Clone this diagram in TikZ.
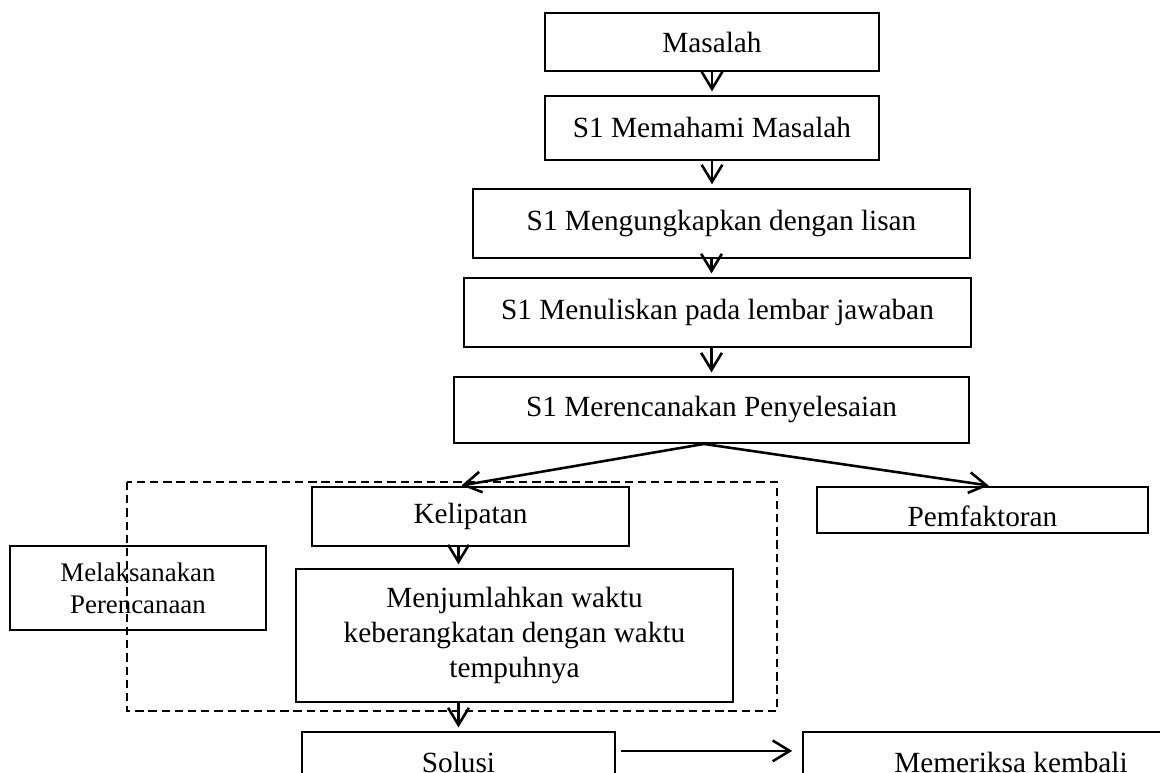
\documentclass[tikz,border=0pt]{standalone}
\usepackage{fontspec}
\setmainfont{Liberation Serif}
\usepackage{tikz}
\usetikzlibrary{calc,arrows.meta}

\begin{document}
\begin{tikzpicture}[box/.style={draw, line width=0.8pt, inner sep=2pt, align=center, font=\fontsize{12}{14.3}\selectfont},
                    arr/.style={line width=1.05pt, -{Straight Barb[length=7pt,width=8.5pt]}, shorten >=1.5pt},
                    frame/.style={line width=0.65pt, dash pattern=on 3.4pt off 2pt}]
                      \useasboundingbox (0,0) rectangle (16.704,-11.131);
                      \node[box, minimum width=4.81cm, minimum height=0.835cm] (masalah) at (10.253,-0.605) {Masalah};
                      \node[box, minimum width=4.81cm, minimum height=0.922cm] (memahami) at (10.253,-1.843) {S1 Memahami Masalah};
                      \node[box, minimum width=7.157cm, minimum height=0.994cm] (mengungkap) at (10.390,-3.218) {S1 Mengungkapkan dengan lisan};
                      \node[box, minimum width=7.301cm, minimum height=0.994cm] (menulis) at (10.332,-4.500) {S1 Menuliskan pada lembar jawaban};
                      \node[box, minimum width=7.416cm, minimum height=0.950cm] (rencana) at (10.246,-5.904) {S1 Merencanakan Penyelesaian};
                      \node[box, minimum width=4.565cm, minimum height=0.850cm] (kelipatan) at (6.775,-7.438) {Kelipatan};
                      \node[box, minimum width=4.766cm, minimum height=0.662cm, text height=0.48cm, text depth=0pt] (pemfaktoran) at (14.148,-7.344) {Pemfaktoran};
                      \node[box, minimum width=3.686cm, minimum height=1.210cm, font=\fontsize{11}{13}\selectfont] (melaksanakan) at (1.987,-8.467) {Melaksanakan\\Perencanaan};
                      \node[box, minimum width=6.293cm, minimum height=1.915cm] (menjumlah) at (7.409,-9.151) {Menjumlahkan waktu\\keberangkatan dengan waktu\\tempuhnya};
                      \node[box, minimum width=4.507cm, minimum height=0.864cm] (solusi) at (6.602,-10.973) {Solusi};
                      \node[box, minimum width=5.990cm, minimum height=0.864cm] (memeriksa) at (14.558,-10.973) {Memeriksa kembali};
                      \coordinate (pisah) at ([xshift=-0.11cm]rencana.south);
                      \draw[frame] (1.829,-6.941) rectangle (11.189,-10.238);
                      \draw[arr] (masalah.south) -- (memahami.north);
                      \draw[arr] (memahami.south) -- (memahami.south |- mengungkap.north);
                      \draw[arr] (mengungkap.south -| rencana) -- (menulis.north -| rencana);
                      \draw[arr] (menulis.south -| rencana) -- (rencana.north);
                      \draw[arr] (pisah) -- ([xshift=-0.18cm]kelipatan.north);
                      \draw[arr] (pisah) -- ([xshift=0.14cm]pemfaktoran.north);
                      \draw[arr] (kelipatan.south -| solusi) -- (menjumlah.north -| solusi);
                      \draw[arr] (menjumlah.south -| solusi) -- (solusi.north);
                      \draw[arr, shorten <=2pt, shorten >=4pt] ([yshift=0.16cm]solusi.east) -- ([yshift=0.16cm]solusi.east -| memeriksa.west);
                  \end{tikzpicture}
\end{document}
